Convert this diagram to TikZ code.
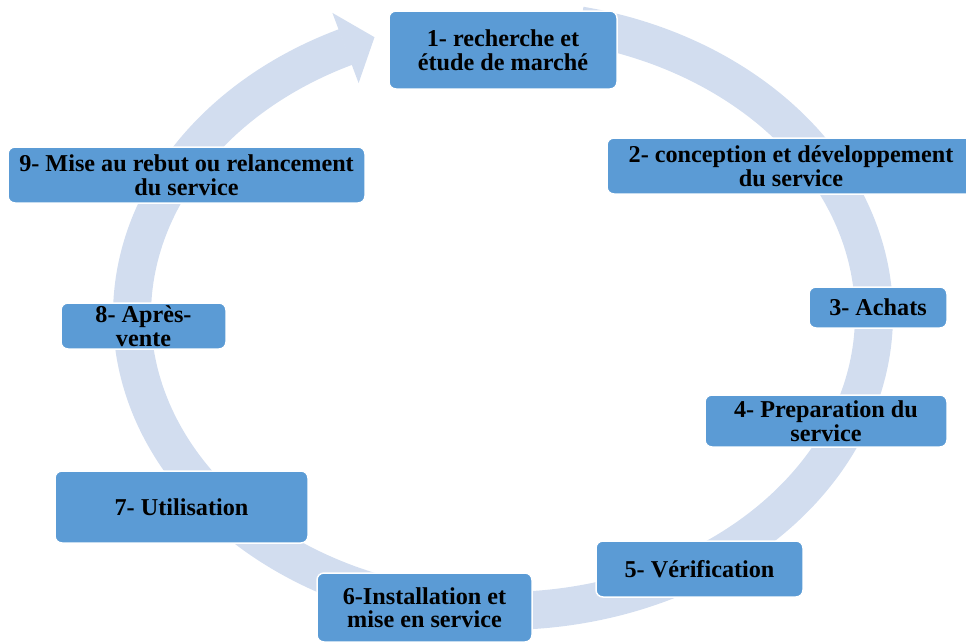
\documentclass[tikz,border=0pt]{standalone}
\usepackage{fontspec}
\setmainfont{Liberation Serif}
\definecolor{boxblue}{RGB}{91,155,213}
\definecolor{ringblue}{RGB}{210,221,239}
\tikzset{
  stage/.style={rectangle, rounded corners=7pt, fill=boxblue, draw=white,
    line width=1.5pt, inner sep=0pt, align=center,
    font=\bfseries\fontsize{24.2}{23.5}\selectfont},
  ring/.style={draw=ringblue, line width=38pt, line cap=butt},
}
\begin{document}
\begin{tikzpicture}[x=1pt,y=-1pt]
  \useasboundingbox (0,0) rectangle (966,643);
  \clip (0,0) rectangle (966,643);
  % cycle arrow: thick elliptical band running clockwise
  \draw[ring] plot[domain=78:-244.9, samples=240, smooth]
    ({503+371*cos(\x)}, {315-296*sin(\x)});
  % its head, pointing back towards the first stage
  \coordinate (headA) at (332.4,12.9);
  \coordinate (headB) at (358.6,83.1);
  \coordinate (headTip) at (374.5,37.2);
  \fill[ringblue] (headA) -- (headTip) -- (headB) -- cycle;
  % stages of the cycle
  \node[stage, minimum width=228, minimum height=78] (s1) at (503,50)
    {1- recherche et\\étude de marché};
  \node[stage, minimum width=368, minimum height=56] (s2) at (791,166)
    {2- conception et développement\\du service};
  \node[stage, minimum width=138, minimum height=41] (s3) at (878,307.5)
    {3- Achats};
  \node[stage, minimum width=242, minimum height=52] (s4) at (826,421)
    {4- Preparation du\\service};
  \node[stage, minimum width=207, minimum height=56] (s5) at (699.5,569)
    {5- Vérification};
  \node[stage, minimum width=215, minimum height=69] (s6) at (424.5,607.5)
    {6-Installation et\\mise en service};
  \node[stage, minimum width=253, minimum height=72] (s7) at (181.5,507)
    {7- Utilisation};
  \node[stage, minimum width=165, minimum height=46] (s8) at (143.5,326)
    {8- Après-\\vente};
  \node[stage, minimum width=357, minimum height=56] (s9) at (186.5,175)
    {9- Mise au rebut ou relancement\\du service};
\end{tikzpicture}
\end{document}
